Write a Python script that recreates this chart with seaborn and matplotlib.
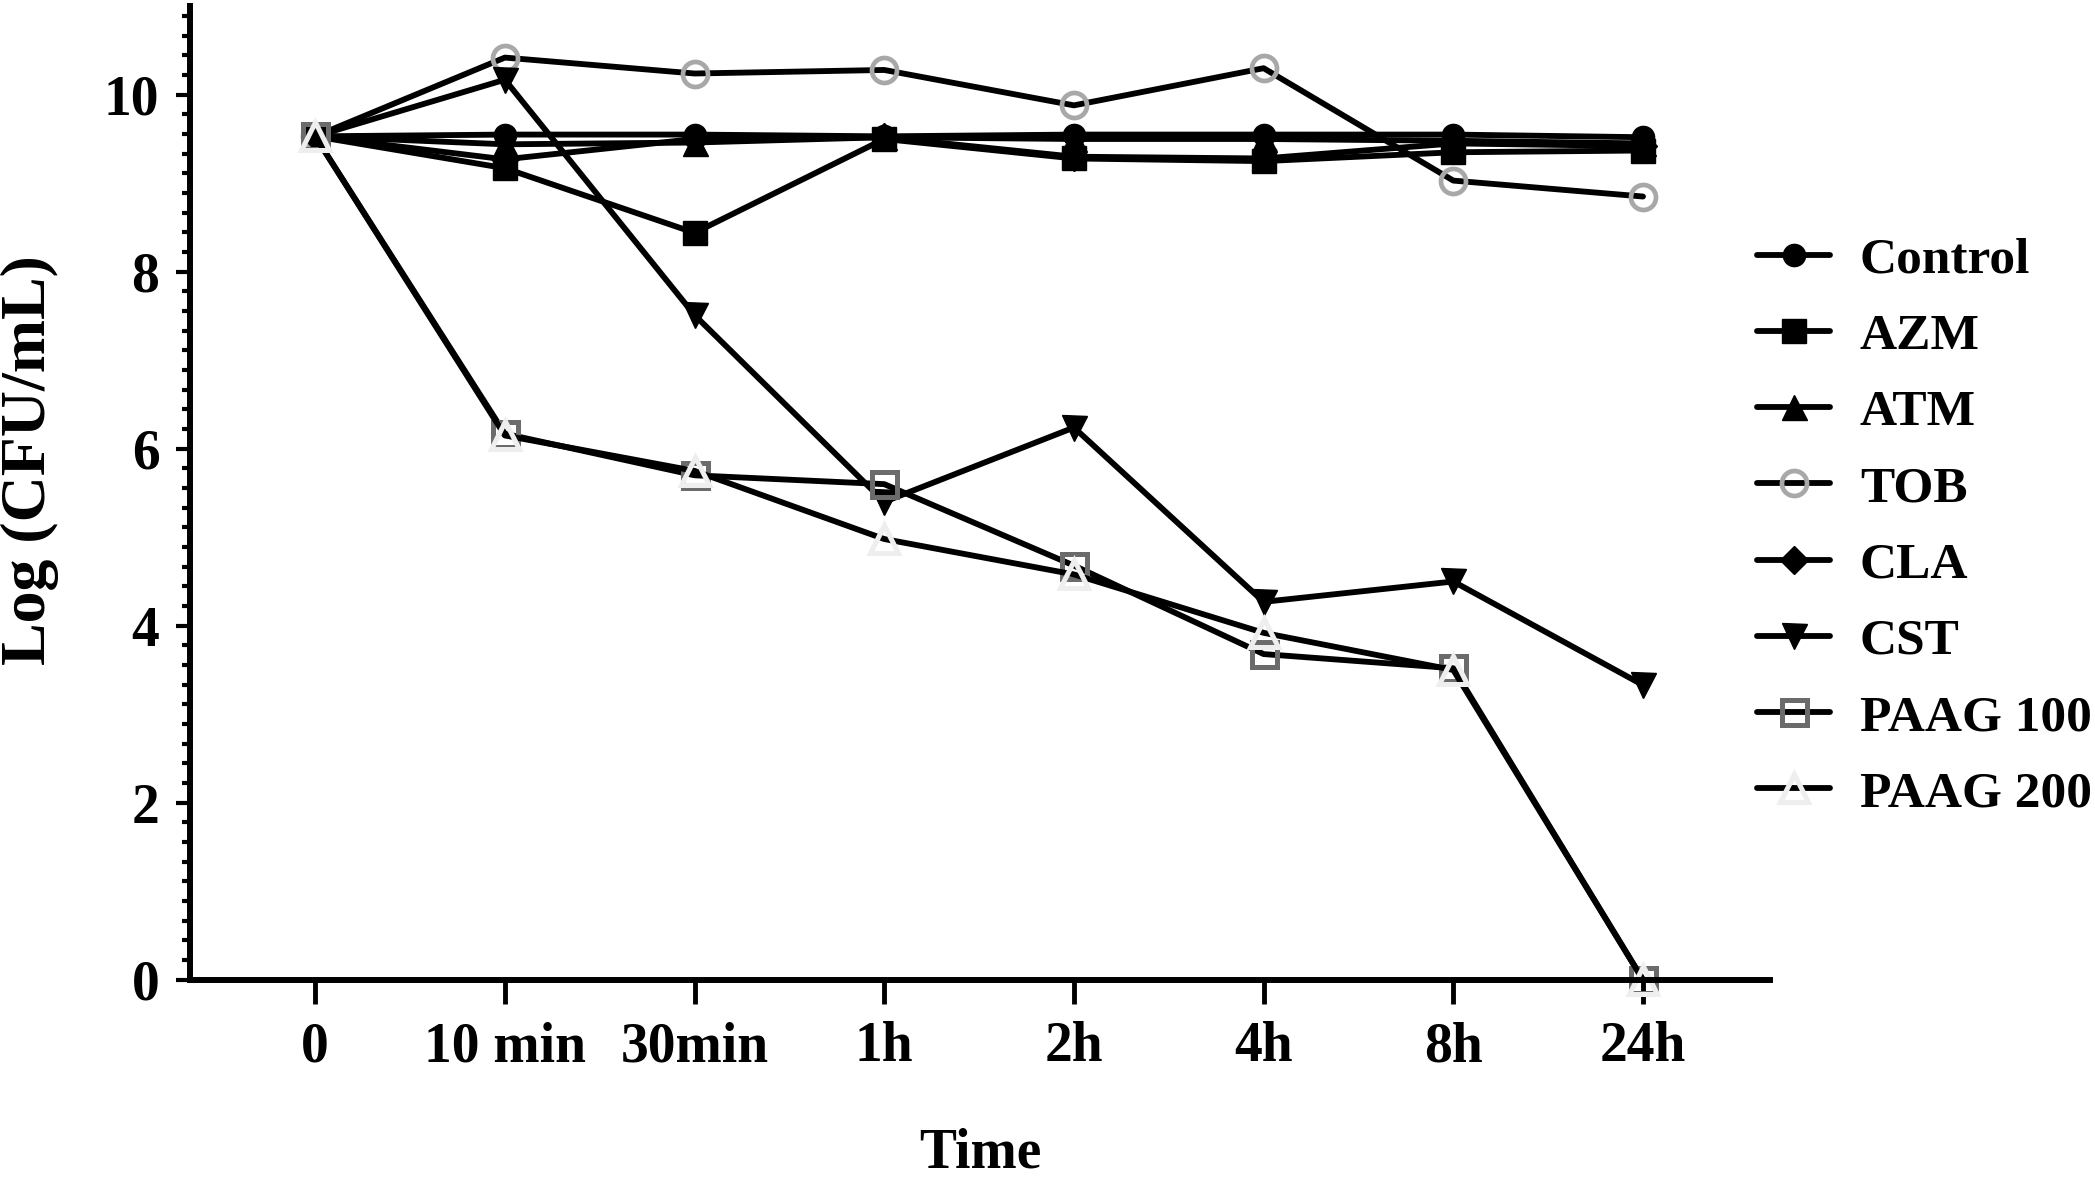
import numpy as np
import pandas as pd
import matplotlib
matplotlib.use("Agg")
import matplotlib.pyplot as plt
from matplotlib.ticker import AutoMinorLocator, MultipleLocator
import seaborn as sns

# time points (categorical x axis)
times = ["0", "10 min", "30min", "1h", "2h", "4h", "8h", "24h"]

# log CFU/mL
control = [9.53, 9.55, 9.55, 9.53, 9.55, 9.55, 9.55, 9.52]
azm = [9.53, 9.17, 8.44, 9.50, 9.28, 9.25, 9.35, 9.37]
atm = [9.53, 9.44, 9.46, 9.52, 9.50, 9.50, 9.48, 9.45]
tob = [9.53, 10.42, 10.24, 10.28, 9.88, 10.30, 9.03, 8.85]
cla = [9.53, 9.27, 9.50, 9.52, 9.30, 9.28, 9.45, 9.42]
cst = [9.53, 10.17, 7.51, 5.40, 6.24, 4.27, 4.50, 3.33]
paag100 = [9.53, 6.17, 5.70, 5.60, 4.68, 3.68, 3.52, 0.0]
paag200 = [9.53, 6.15, 5.75, 4.98, 4.58, 3.92, 3.50, 0.0]

groups = ["Control", "AZM", "ATM", "TOB", "CLA", "CST", "PAAG 100", "PAAG 200"]
values = [control, azm, atm, tob, cla, cst, paag100, paag200]

# marker, face colour, edge colour, size, edge width
styles = {
    "Control": ("o", "black", "black", 16, 1),
    "AZM": ("s", "black", "black", 17, 1),
    "ATM": ("^", "black", "black", 18, 1),
    "TOB": ("o", "none", "#a8a8a8", 18, 3.4),
    "CLA": ("D", "black", "black", 14, 1),
    "CST": ("v", "black", "black", 18, 1),
    "PAAG 100": ("s", "none", "#6b6b6b", 18, 3.6),
    "PAAG 200": ("^", "none", "#eeeeee", 20, 3.6),
}

df = pd.DataFrame({
    "Time": times * len(groups),
    "Log": np.concatenate(values),
    "Group": np.repeat(groups, len(times)),
})

sns.set_theme(style="ticks")
plt.rcParams["font.family"] = ["Liberation Serif", "DejaVu Serif"]
plt.rcParams["font.weight"] = "bold"
plt.rcParams["axes.labelweight"] = "bold"
for key in ["text.color", "axes.labelcolor", "xtick.color", "ytick.color",
            "axes.edgecolor"]:
    plt.rcParams[key] = "black"

fig = plt.figure(figsize=(20.95, 11.79), dpi=100)
ax = fig.add_axes([0.0907, 0.169, 0.7542, 0.8257])

for name in groups:
    m, fc, ec, ms, mew = styles[name]
    sns.lineplot(data=df[df["Group"] == name], x="Time", y="Log", ax=ax,
                 color="black", linewidth=4.2, errorbar=None,
                 marker=m, markersize=ms, markerfacecolor=fc,
                 markeredgecolor=ec, markeredgewidth=mew,
                 label=name, clip_on=False)

ax.set_xlim(-0.66, 7.67)
ax.set_ylim(0, 11)
ax.yaxis.set_major_locator(MultipleLocator(2))
ax.yaxis.set_minor_locator(AutoMinorLocator(9))

sns.despine(ax=ax)
for s in ["left", "bottom"]:
    ax.spines[s].set_linewidth(4.3)
    ax.spines[s].set_color("black")

ax.tick_params(axis="y", which="major", length=10, width=3, pad=12,
               labelsize=40, direction="out")
ax.tick_params(axis="y", which="minor", length=6, width=3, direction="out")
ax.tick_params(axis="x", which="major", length=17, width=3.5, pad=13,
               labelsize=40, direction="out")

ax.set_xlabel("Time", fontsize=40, fontweight="bold")
ax.set_ylabel("Log (CFU/mL)", fontsize=46, fontweight="bold")
ax.xaxis.set_label_coords(0.5, -0.152)
ax.yaxis.set_label_coords(-0.083, 0.534)

ax.legend(loc="center left", bbox_to_anchor=(0.8387, 0.553),
          bbox_transform=fig.transFigure, frameon=False, fontsize=37,
          handlelength=1.42, handletextpad=0.58, labelspacing=0.57,
          borderpad=0, borderaxespad=0)

fig.savefig("out.png", dpi=100)
